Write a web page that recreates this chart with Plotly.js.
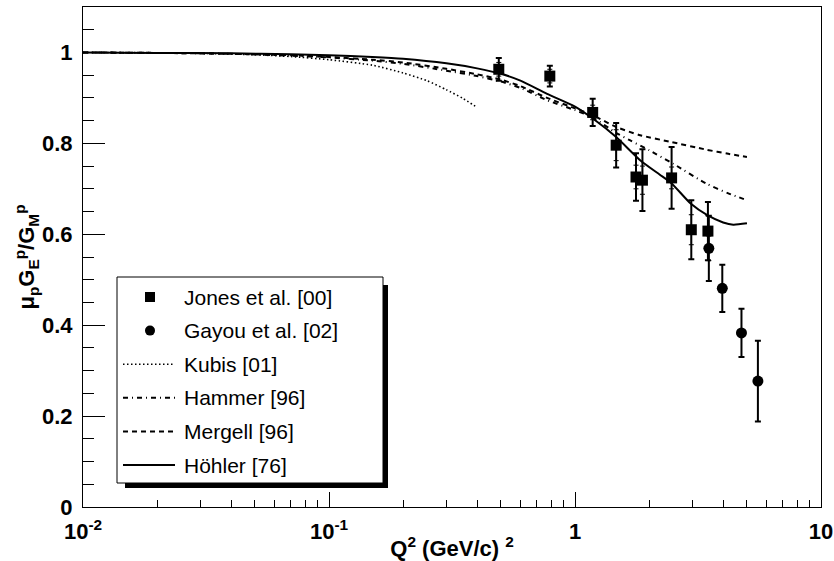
<!DOCTYPE html>
<html>
<head>
<meta charset="utf-8">
<script src="https://cdn.plot.ly/plotly-3.0.1.min.js"></script>
<style>
  html, body { margin: 0; padding: 0; background: #fff; }
  #chart { width: 834px; height: 561px; }
</style>
</head>
<body>
<div id="chart"></div>
<script>
// Polarization-transfer data: Jones et al. [00]
const q2Jones    = [0.49, 0.79, 1.18, 1.47, 1.77, 1.88, 2.47, 2.97, 3.47];
const ratioJones = [0.963, 0.948, 0.868, 0.796, 0.726, 0.719, 0.724, 0.610, 0.607];
const errJones   = [0.025, 0.023, 0.030, 0.049, 0.052, 0.068, 0.068, 0.065, 0.064];
const statJones  = [0.015, 0.015, 0.016, 0.034, 0.026, 0.031, 0.024, 0.033, 0.034];

// Gayou et al. [02]
const q2Gayou    = [3.50, 3.97, 4.75, 5.54];
const ratioGayou = [0.569, 0.481, 0.383, 0.277];
const errGayou   = [0.072, 0.052, 0.053, 0.089];
const statGayou  = [0.027, 0, 0, 0];

// Model curves
const q2Kubis    = [0.01, 0.02, 0.03, 0.05, 0.07, 0.1, 0.15, 0.2, 0.25, 0.3, 0.35, 0.4];
const ratioKubis = [1.000, 0.999, 0.998, 0.995, 0.991, 0.984, 0.972, 0.955, 0.938, 0.918, 0.899, 0.879];

const q2Hammer    = [0.01, 0.02, 0.04, 0.07, 0.1, 0.15, 0.2, 0.3, 0.4, 0.5, 0.6, 0.77, 1.0, 1.18, 1.47, 1.67, 2.0, 2.51, 3.43, 4.2, 5.0];
const ratioHammer = [1.000, 0.999, 0.997, 0.993, 0.989, 0.982, 0.975, 0.960, 0.948, 0.936, 0.922, 0.895, 0.873, 0.857, 0.823, 0.807, 0.785, 0.755, 0.711, 0.690, 0.675];

const q2Mergell    = [0.01, 0.02, 0.04, 0.07, 0.1, 0.15, 0.2, 0.3, 0.4, 0.5, 0.6, 0.77, 1.0, 1.18, 1.47, 1.84, 2.46, 3.43, 4.2, 5.0];
const ratioMergell = [1.000, 0.999, 0.997, 0.994, 0.990, 0.984, 0.978, 0.964, 0.952, 0.940, 0.926, 0.900, 0.877, 0.862, 0.836, 0.818, 0.803, 0.786, 0.777, 0.770];

const q2Hohler    = [0.01, 0.02, 0.04, 0.07, 0.1, 0.15, 0.2, 0.3, 0.4, 0.5, 0.6, 0.77, 1.0, 1.2, 1.47, 1.84, 2.2, 2.46, 2.96, 3.45, 4.0, 4.4, 5.0];
const ratioHohler = [1.000, 0.999, 0.998, 0.996, 0.994, 0.990, 0.986, 0.976, 0.965, 0.953, 0.938, 0.909, 0.881, 0.852, 0.814, 0.763, 0.732, 0.713, 0.667, 0.642, 0.626, 0.621, 0.624];

// Axis tick labels
const yTickVals = [0, 0.2, 0.4, 0.6, 0.8, 1];
const yTickText = ["0", "0.2", "0.4", "0.6", "0.8", "1"];
const xTickVals = [0.01, 0.1, 1, 10];
const xTickText = ["10<sup>-2</sup>", "10<sup>-1</sup>", "1", "10"];
const xMinorVals = [0.02,0.03,0.04,0.05,0.06,0.07,0.08,0.09,
                    0.2,0.3,0.4,0.5,0.6,0.7,0.8,0.9,
                    2,3,4,5,6,7,8,9];

// Legend entries
const legendLabels = ["Jones et al. [00]", "Gayou et al. [02]", "Kubis [01]", "Hammer [96]", "Mergell [96]", "Höhler [76]"];

const FONT = "Liberation Sans, Arial, Helvetica, sans-serif";
const W = 834, H = 561;
const M = { l: 83, r: 13, t: 7, b: 54 };
const PW = W - M.l - M.r, PH = H - M.t - M.b;
const px = v => (v - M.l) / PW;          // pixel column -> paper x
const py = v => (H - M.b - v) / PH;      // pixel row -> paper y

const DASH_MERGELL = "5px,4px";
const DASH_HAMMER = "5px,4px,1px,4px";
const DASH_KUBIS = "1.5px,2.5px";

const curveStyle = [
  { dash: DASH_KUBIS, width: 1.6 },
  { dash: DASH_HAMMER, width: 2 },
  { dash: DASH_MERGELL, width: 2 },
  { dash: "solid", width: 2 }
];

function curve(x, y, st) {
  return { x: x, y: y, type: "scatter", mode: "lines", showlegend: false, hoverinfo: "skip",
           line: { color: "#000", width: st.width, dash: st.dash, shape: "spline", smoothing: 0.6 } };
}

function points(x, y, err, symbol, size) {
  return { x: x, y: y, type: "scatter", mode: "markers", showlegend: false,
           marker: { symbol: symbol, size: size, color: "#000" },
           error_y: { type: "data", array: err, visible: true, color: "#000", thickness: 2, width: 3 } };
}

function statBars(x, y, err) {
  return { x: x, y: y, type: "scatter", mode: "markers", showlegend: false, hoverinfo: "skip",
           marker: { size: 1, color: "rgba(0,0,0,0)" },
           error_y: { type: "data", array: err, visible: true, color: "#000", thickness: 1, width: 2.5 } };
}

const data = [
  curve(q2Kubis, ratioKubis, curveStyle[0]),
  curve(q2Hammer, ratioHammer, curveStyle[1]),
  curve(q2Mergell, ratioMergell, curveStyle[2]),
  curve(q2Hohler, ratioHohler, curveStyle[3]),
  statBars(q2Jones, ratioJones, statJones),
  statBars(q2Gayou, ratioGayou, statGayou),
  points(q2Jones, ratioJones, errJones, "square", 11),
  points(q2Gayou, ratioGayou, errGayou, "circle", 11)
];

// Legend box with drop shadow, drawn in paper space
const box = { x0: 117, y0: 277, x1: 383, y1: 483 };
const rowY0 = 297, rowStep = 33.6;
const shapes = [
  { type: "rect", xref: "paper", yref: "paper", x0: px(125), x1: px(388), y0: py(285), y1: py(488),
    fillcolor: "#000", line: { width: 0 } },
  { type: "rect", xref: "paper", yref: "paper", x0: px(box.x0), x1: px(box.x1), y0: py(box.y0), y1: py(box.y1),
    fillcolor: "#fff", line: { color: "#000", width: 1 } }
];
const annotations = [];
legendLabels.forEach((label, i) => {
  const yc = rowY0 + i * rowStep;
  if (i === 0) {
    shapes.push({ type: "rect", xref: "paper", yref: "paper", xsizemode: "pixel", ysizemode: "pixel",
      xanchor: px(150), yanchor: py(yc), x0: -5, x1: 5, y0: -5, y1: 5,
      fillcolor: "#000", line: { width: 0 } });
  } else if (i === 1) {
    shapes.push({ type: "circle", xref: "paper", yref: "paper", xsizemode: "pixel", ysizemode: "pixel",
      xanchor: px(150), yanchor: py(yc), x0: -5, x1: 5, y0: -5, y1: 5,
      fillcolor: "#000", line: { width: 0 } });
  } else {
    const st = curveStyle[i - 2];
    shapes.push({ type: "line", xref: "paper", yref: "paper", x0: px(123), x1: px(175), y0: py(yc), y1: py(yc),
      line: { color: "#000", width: st.width, dash: st.dash } });
  }
  annotations.push({ xref: "paper", yref: "paper", x: px(182), y: py(yc), xanchor: "left", yanchor: "middle",
    text: label, showarrow: false, font: { family: FONT, size: 21, color: "#000" } });
});

const axisFont = { family: FONT, size: 22, color: "#000", weight: "bold" };
const titleFont = { family: FONT, size: 22, color: "#000", weight: "bold" };

const layout = {
  width: W, height: H,
  margin: M,
  paper_bgcolor: "#fff", plot_bgcolor: "#fff",
  showlegend: false,
  xaxis: {
    type: "log", range: [-2, 1],
    tickmode: "array", tickvals: xTickVals, ticktext: xTickText,
    ticks: "inside", ticklen: 15, tickwidth: 1, tickcolor: "#000",
    minor: { tickmode: "array", tickvals: xMinorVals, ticks: "inside", ticklen: 7.5, tickwidth: 1, tickcolor: "#000", showgrid: false },
    showline: true, mirror: true, linecolor: "#000", linewidth: 1,
    showgrid: false, zeroline: false,
    tickfont: axisFont, ticklabelstandoff: 5,
    title: { text: "Q<sup>2</sup> (GeV/c) <sup>2</sup>", font: titleFont, standoff: 2 }
  },
  yaxis: {
    range: [0, 1.1],
    tickmode: "array", tickvals: yTickVals, ticktext: yTickText,
    ticks: "inside", ticklen: 22, tickwidth: 1, tickcolor: "#000",
    minor: { dtick: 0.05, ticks: "inside", ticklen: 11, tickwidth: 1, tickcolor: "#000", showgrid: false },
    showline: true, mirror: true, linecolor: "#000", linewidth: 1,
    showgrid: false, zeroline: false,
    tickfont: axisFont, ticklabelstandoff: 5,
    title: { text: "μ<sub>p</sub>G<sub>E</sub><sup>p</sup>/G<sub>M</sub><sup>p</sup>", font: titleFont, standoff: 0 }
  },
  shapes: shapes,
  annotations: annotations
};

Plotly.newPlot("chart", data, layout, { staticPlot: true, displayModeBar: false });
</script>
</body>
</html>
